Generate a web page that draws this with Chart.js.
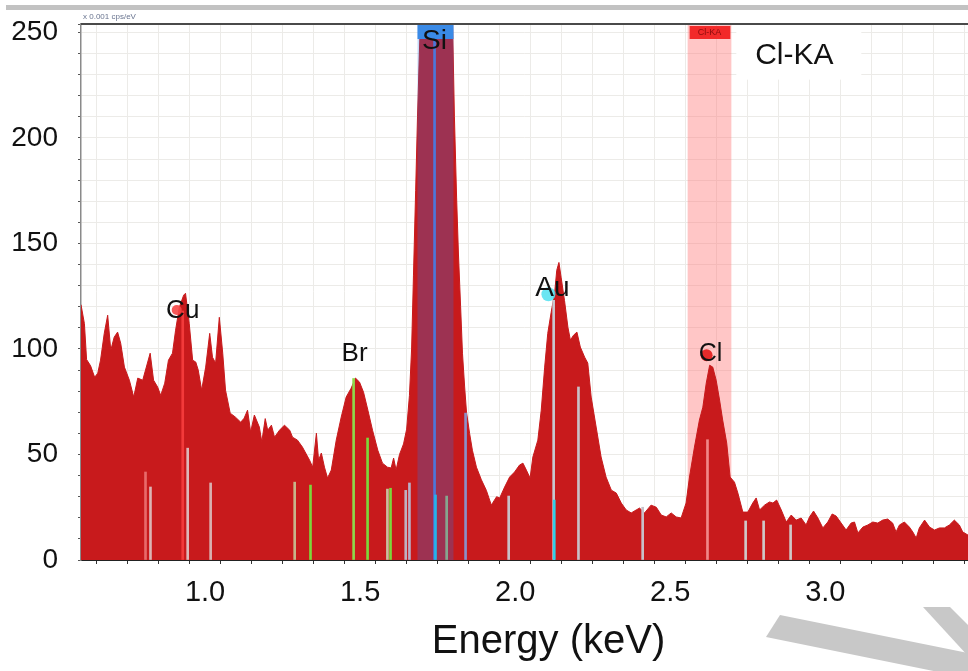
<!DOCTYPE html>
<html>
<head>
<meta charset="utf-8">
<title>EDS spectrum</title>
<script src="https://cdn.jsdelivr.net/npm/chart.js@4.4.0/dist/chart.umd.min.js"></script>
<style>
  html, body { margin: 0; padding: 0; background: #fff; }
  canvas { display: block; }
</style>
</head>
<body>
<canvas id="spectrum" width="968" height="671"></canvas>
<script>
// spectrum trace, energy in keV
const specEnergy = [
  0.600, 0.611, 0.618, 0.631, 0.644, 0.654, 0.663, 0.675, 0.686, 0.696,
  0.707, 0.718, 0.728, 0.740, 0.756, 0.770, 0.783, 0.799, 0.808, 0.823,
  0.834, 0.847, 0.857, 0.870, 0.882, 0.895, 0.905, 0.917, 0.931, 0.937,
  0.949, 0.960, 0.970, 0.978, 0.989, 1.002, 1.015, 1.024, 1.034, 1.046,
  1.057, 1.066, 1.081, 1.098, 1.115, 1.126, 1.137, 1.147, 1.159, 1.175,
  1.183, 1.194, 1.202, 1.214, 1.224, 1.240, 1.256, 1.273, 1.282, 1.298,
  1.314, 1.337, 1.347, 1.359, 1.366, 1.375, 1.385, 1.395, 1.407, 1.423,
  1.439, 1.455, 1.471, 1.485, 1.498, 1.511, 1.525, 1.540, 1.557, 1.572,
  1.588, 1.600, 1.608, 1.616, 1.627, 1.640, 1.650, 1.659, 1.666, 1.672,
  1.679, 1.685, 1.692, 1.701, 1.717, 1.740, 1.763, 1.782, 1.798, 1.804,
  1.811, 1.817, 1.824, 1.830, 1.837, 1.843, 1.853, 1.862, 1.875, 1.891,
  1.907, 1.923, 1.940, 1.950, 1.966, 1.982, 1.998, 2.014, 2.025, 2.036,
  2.048, 2.057, 2.073, 2.084, 2.095, 2.105, 2.116, 2.127, 2.134, 2.141,
  2.148, 2.159, 2.170, 2.178, 2.188, 2.199, 2.210, 2.224, 2.234, 2.245,
  2.261, 2.277, 2.293, 2.310, 2.326, 2.342, 2.358, 2.374, 2.390, 2.401,
  2.417, 2.438, 2.455, 2.471, 2.487, 2.503, 2.519, 2.535, 2.551, 2.562,
  2.578, 2.594, 2.605, 2.616, 2.627, 2.637, 2.648, 2.659, 2.669, 2.682,
  2.693, 2.707, 2.718, 2.734, 2.750, 2.766, 2.777, 2.788, 2.804, 2.820,
  2.831, 2.843, 2.858, 2.874, 2.890, 2.906, 2.922, 2.938, 2.949, 2.962,
  2.976, 2.992, 3.008, 3.022, 3.035, 3.051, 3.067, 3.083, 3.094, 3.105,
  3.121, 3.137, 3.153, 3.169, 3.185, 3.201, 3.217, 3.228, 3.239, 3.255,
  3.271, 3.282, 3.293, 3.303, 3.320, 3.336, 3.352, 3.368, 3.384, 3.400,
  3.416, 3.432, 3.443, 3.460
];
const specCounts = [
  121, 112, 95, 92, 86.6, 88.5, 94.7, 107.4, 116, 99.4,
  105.6, 108, 102.7, 91.4, 85.2, 77.2, 86.2, 85.2, 90, 98,
  85.2, 82, 78, 83.8, 94.7, 98, 108.9, 119.8, 125.5, 126.4,
  112, 94.7, 93.8, 90, 80.5, 91.4, 107.4, 96.1, 93.3, 115,
  98, 80.5, 69.6, 67.7, 65.3, 67.2, 71, 60.6, 68.7, 63,
  56, 67, 61.5, 63.9, 58.2, 61.5, 63.9, 61.5, 58.2, 56.8,
  53.5, 47.3, 44, 60.1, 47.3, 50.7, 44, 38.8, 42.6, 56.8,
  67.7, 77.2, 81.4, 86.2, 84.3, 79.5, 71, 61.5, 52, 45.9,
  44, 43.6, 48.3, 42.6, 50, 55, 62, 78, 100, 135,
  175, 210, 245, 285, 320, 335, 325, 300, 255, 210,
  172, 145, 120, 98, 82, 70, 60, 52, 44, 38,
  33, 26, 30, 29.4, 34.6, 39.3, 41.7, 45, 45.9, 42.6,
  38.8, 48.8, 56.8, 71, 91.4, 107.4, 117.4, 126.4, 137.3, 141,
  134, 123, 110.3, 104.2, 106.5, 108, 100.9, 96.1, 93.3, 77.2,
  63, 48.8, 39.3, 33.1, 31.7, 27, 23.7, 22.3, 23.7, 24.6,
  22.3, 26, 25, 21.3, 20.4, 22.3, 20.4, 19.9, 27, 39.3,
  53.5, 66.3, 72.4, 83.8, 92.3, 91.4, 85.2, 75.8, 66.3, 55.4,
  39.3, 36.9, 31.7, 22.7, 22.7, 27, 29.4, 23.7, 26, 27.5,
  27, 28.4, 23.7, 18, 21.3, 18.9, 19.9, 16.6, 20.4, 23.2,
  19.9, 15.2, 18, 21.8, 20.8, 17.5, 14.2, 17.5, 18, 12.8,
  15.6, 16.6, 18, 17.5, 18.9, 19.4, 17.5, 13.3, 16.6, 18,
  15.6, 13.3, 10.4, 15.2, 18.9, 15.6, 14.2, 15.2, 15.2, 16.6,
  18.9, 16.6, 13.3, 11.8
];

// element line markers
const lineEnergy = [0.808, 0.824, 0.928, 0.944, 1.018, 1.289, 1.340, 1.479, 1.524, 1.588,
  1.598, 1.647, 1.659, 1.740, 1.743, 1.779, 1.840, 1.979, 2.124, 2.126,
  2.204, 2.411, 2.620, 2.743, 2.801, 2.888];
const lineHeight = [41.7, 34.6, 118, 53, 36.5, 36.9, 35.5, 86, 57.8, 33.6,
  34, 33, 36.5, 254, 30.8, 30.3, 69.6, 30.3, 123, 28.4,
  82, 25, 57, 18.5, 18.5, 16.6];
const lineColor = ['#e86a6a', '#dcb4b4', '#f23a3a', '#ddb8b8', '#d9b0b0', '#c8b48a', '#7cd83a', '#8fd84a', '#7cd83a', '#c8c0a0',
  '#7cd83a', '#c0b0c0', '#b8b0c8', '#5a78d8', '#22ccee', '#a8b870', '#8a90c8', '#c8c0c8', '#c8c8d0', '#33d0e8',
  '#c8c0c8', '#c8c0c8', '#f08888', '#d0c8c8', '#d0c8c8', '#d0c8c8'];

// peak labels
const peakNames = ['Cu', 'Br', 'Si', 'Au', 'Cl'];
const peakEnergy = [0.928, 1.482, 1.740, 2.120, 2.630];
const peakCounts = [118, 97.5, 246, 128.8, 97.5];

// highlighted energy windows
const windowNames = ['Si', 'Cl-KA'];
const windowStart = [1.685, 2.556];
const windowEnd = [1.801, 2.697];

const xTickValues = [1.0, 1.5, 2.0, 2.5, 3.0];
const yTickValues = [0, 50, 100, 150, 200, 250];
const xTitle = 'Energy (keV)';

const FONT = "'Liberation Sans', Arial, sans-serif";

const overlay = {
  id: 'overlay',
  beforeDraw(chart) {
    const ctx = chart.ctx;
    ctx.save();
    ctx.fillStyle = '#fff';
    ctx.fillRect(0, 0, chart.width, chart.height);
    ctx.fillStyle = '#c2c2c2';
    ctx.fillRect(6, 5, chart.width - 6, 5);
    ctx.restore();
  },
  beforeDatasetsDraw(chart) {
    // Cl window sits under the spectrum
    const { ctx, chartArea: a, scales: { x } } = chart;
    const x0 = x.getPixelForValue(windowStart[1]);
    const x1 = x.getPixelForValue(windowEnd[1]);
    ctx.save();
    ctx.fillStyle = 'rgba(255,120,120,0.42)';
    ctx.fillRect(x0, a.top, x1 - x0, a.bottom - a.top);
    ctx.restore();
  },
  afterDatasetsDraw(chart) {
    const { ctx, chartArea: a, scales: { x, y } } = chart;
    ctx.save();

    // Si window tints the spectrum
    const s0 = x.getPixelForValue(windowStart[0]);
    const s1 = x.getPixelForValue(windowEnd[0]);
    ctx.fillStyle = 'rgba(40,120,230,0.27)';
    ctx.fillRect(s0, a.top, s1 - s0, a.bottom - a.top);

    // window tags along the top
    ctx.fillStyle = '#3a8ae6';
    ctx.fillRect(s0, a.top + 1, s1 - s0, 14);
    const c0 = x.getPixelForValue(windowStart[1]);
    const c1 = x.getPixelForValue(windowEnd[1]);
    ctx.fillStyle = '#f22a2a';
    ctx.fillRect(c0 + 2, a.top + 2, c1 - c0 - 3, 13);
    ctx.fillStyle = '#8a0c0c';
    ctx.font = '9px ' + FONT;
    ctx.textAlign = 'center';
    ctx.textBaseline = 'middle';
    ctx.fillText(windowNames[1], (c0 + c1) / 2, a.top + 9);

    // top frame line
    ctx.strokeStyle = '#4a4a4a';
    ctx.lineWidth = 2;
    ctx.beginPath();
    ctx.moveTo(a.left, a.top);
    ctx.lineTo(a.right, a.top);
    ctx.stroke();

    // small unit note above the frame
    ctx.fillStyle = '#6a7590';
    ctx.font = '8px ' + FONT;
    ctx.textAlign = 'left';
    ctx.fillText('x 0.001 cps/eV', a.left + 2, a.top - 7);

    // coloured spots behind some labels
    const spots = { Cu: [-6, -1, 5, 'rgba(245,70,70,0.9)'], Au: [-4, 6, 7, 'rgba(80,225,240,0.85)'], Cl: [-4, 1, 6, '#e52a2a'] };
    peakNames.forEach((name, i) => {
      const px = x.getPixelForValue(peakEnergy[i]);
      const py = y.getPixelForValue(peakCounts[i]);
      const s = spots[name];
      if (s) {
        ctx.fillStyle = s[3];
        ctx.beginPath();
        ctx.arc(px + s[0], py + s[1], s[2], 0, Math.PI * 2);
        ctx.fill();
      }
    });

    // peak labels
    const sizes = { Cu: 26, Br: 26, Si: 28, Au: 28, Cl: 25 };
    ctx.fillStyle = '#111';
    ctx.textAlign = 'center';
    ctx.textBaseline = 'middle';
    peakNames.forEach((name, i) => {
      ctx.font = sizes[name] + 'px ' + FONT;
      ctx.fillText(name, x.getPixelForValue(peakEnergy[i]), y.getPixelForValue(peakCounts[i]));
    });

    // window name in the corner box
    const kx = x.getPixelForValue(2.900);
    const ky = y.getPixelForValue(239);
    ctx.fillStyle = '#fff';
    ctx.fillRect(kx - 58, a.top + 1, 125, ky + 24 - a.top - 1);
    ctx.fillStyle = '#111';
    ctx.font = '30px ' + FONT;
    ctx.fillText(windowNames[1], kx, ky);
    ctx.restore();
  },
  afterDraw(chart) {
    const ctx = chart.ctx;
    const x = chart.scales.x;
    ctx.save();

    // axis title, a little right of the plot centre
    ctx.fillStyle = '#111';
    ctx.font = '40px ' + FONT;
    ctx.textAlign = 'center';
    ctx.textBaseline = 'middle';
    ctx.fillText(xTitle, (x.left + x.right) / 2 + 24, 642);

    // grey arrow in the lower right corner
    ctx.fillStyle = '#c8c8c8';
    ctx.beginPath();
    ctx.moveTo(780, 615);
    ctx.lineTo(968, 653);
    ctx.lineTo(968, 678);
    ctx.lineTo(766, 637);
    ctx.closePath();
    ctx.fill();
    ctx.beginPath();
    ctx.moveTo(923, 607);
    ctx.lineTo(950, 607);
    ctx.lineTo(968, 625);
    ctx.lineTo(968, 656);
    ctx.closePath();
    ctx.fill();
    ctx.restore();
  }
};

new Chart(document.getElementById('spectrum'), {
  type: 'line',
  data: {
    datasets: [
      {
        type: 'bar',
        data: lineEnergy.map((e, i) => ({ x: e, y: lineHeight[i] })),
        backgroundColor: lineColor,
        barThickness: 2,
        borderWidth: 0,
        order: 1
      },
      {
        type: 'line',
        data: specEnergy.map((e, i) => ({ x: e, y: specCounts[i] })),
        borderColor: '#c81a1c',
        backgroundColor: '#c81a1c',
        borderWidth: 1,
        pointRadius: 0,
        tension: 0,
        fill: 'origin',
        order: 2
      }
    ]
  },
  options: {
    responsive: false,
    devicePixelRatio: 1,
    animation: false,
    events: [],
    layout: { padding: { top: 24, left: 0, right: 0, bottom: 0 } },
    plugins: { legend: { display: false }, tooltip: { enabled: false } },
    scales: {
      x: {
        type: 'linear',
        min: 0.6,
        max: 3.46,
        bounds: 'data',
        offset: false,
        afterFit(scale) {
          scale.height = 111;
          scale.paddingLeft = 0;
          scale.paddingRight = 0;
        },
        grid: { color: '#ecebe8', tickColor: '#333', tickLength: 4 },
        border: { color: '#222', width: 2 },
        ticks: {
          stepSize: 0.1,
          includeBounds: false,
          autoSkip: false,
          maxRotation: 0,
          padding: 12,
          color: '#111',
          font: { family: FONT, size: 29 },
          callback: (v) => xTickValues.some(t => Math.abs(t - v) < 1e-6) ? v.toFixed(1) : ''
        }
      },
      y: {
        min: 0,
        max: 254,
        bounds: 'data',
        afterFit(scale) {
          scale.width = 81;
          scale.paddingTop = 0;
          scale.paddingBottom = 0;
        },
        grid: { color: '#ecebe8', tickColor: '#555', tickLength: 3 },
        border: { color: '#8a8a8a', width: 1.5 },
        ticks: {
          stepSize: 10,
          includeBounds: false,
          autoSkip: false,
          padding: 20,
          color: '#111',
          font: { family: FONT, size: 28 },
          callback: (v) => yTickValues.includes(v) ? String(v) : ''
        }
      }
    }
  },
  plugins: [overlay]
});
</script>
</body>
</html>
